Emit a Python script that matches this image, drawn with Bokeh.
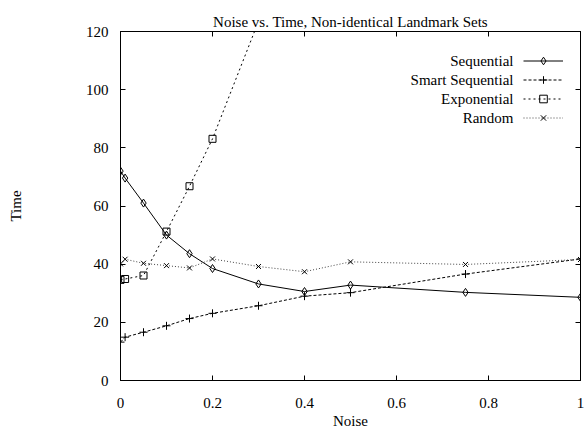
from bokeh.plotting import figure
from bokeh.models import (Range1d, LinearAxis, Legend, LegendItem, Label,
                          FixedTicker, CustomJSTickFormatter)
from bokeh.embed import file_html
from bokeh.resources import INLINE

# ---- data ----
noise = [0, 0.01, 0.05, 0.1, 0.15, 0.2, 0.3, 0.4, 0.5, 0.75, 1.0]
sequential = [72.0, 69.6, 61.0, 50.0, 43.6, 38.5, 33.2, 30.6, 32.8, 30.3, 28.6]
smart_sequential = [13.2, 14.9, 16.6, 18.8, 21.3, 23.1, 25.7, 29.0, 30.2, 36.6, 41.8]
exp_noise = [0, 0.01, 0.05, 0.1, 0.15, 0.2, 0.3]
exponential = [34.6, 34.9, 36.1, 51.2, 66.8, 83.1, 123.5]
random_times = [40.1, 41.7, 40.3, 39.5, 38.7, 41.8, 39.2, 37.4, 40.8, 39.9, 41.6]

series_names = ["Sequential", "Smart Sequential", "Exponential", "Random"]
x_ticks = [0, 0.2, 0.4, 0.6, 0.8, 1.0]
x_tick_labels = ["0", "0.2", "0.4", "0.6", "0.8", "1"]
y_ticks = [0, 20, 40, 60, 80, 100, 120]

FONT = "Liberation Serif"
FS = "15px"

p = figure(width=585, height=431, x_range=Range1d(0, 1), y_range=Range1d(0, 120),
           output_backend="svg", toolbar_location=None,
           min_border_left=120, min_border_right=5, min_border_top=31,
           min_border_bottom=51)
p.background_fill_color = "white"
p.border_fill_color = "white"
p.outline_line_color = "black"
p.outline_line_width = 1
p.xgrid.visible = False
p.ygrid.visible = False

p.title.text = "Noise vs. Time, Non-identical Landmark Sets"
p.title.align = "center"
p.title.vertical_align = "top"
p.title.text_font = FONT
p.title.text_font_size = FS
p.title.text_font_style = "normal"
p.title.text_color = "black"
p.title.standoff = 0

def style_axis(ax):
    ax.major_tick_in = 5
    ax.major_tick_out = 0
    ax.minor_tick_line_color = None
    ax.axis_line_color = "black"
    ax.major_tick_line_color = "black"
    ax.major_label_text_font = FONT
    ax.major_label_text_font_size = FS
    ax.major_label_text_color = "black"
    ax.axis_label_text_font = FONT
    ax.axis_label_text_font_size = FS
    ax.axis_label_text_font_style = "normal"
    ax.axis_label_text_color = "black"

xa = p.xaxis[0]
xa.ticker = FixedTicker(ticks=x_ticks)
xa.major_label_overrides = {t: l for t, l in zip(x_ticks, x_tick_labels)}
xa.axis_label = "Noise"
style_axis(xa)
xa.major_label_standoff = 17
xa.axis_label_standoff = 2

ya = p.yaxis[0]
ya.ticker = FixedTicker(ticks=y_ticks)
ya.axis_label = "Time"
style_axis(ya)
ya.major_label_standoff = 12
ya.axis_label_standoff = 59

blank = CustomJSTickFormatter(code="return ''")
top = LinearAxis(ticker=FixedTicker(ticks=x_ticks), formatter=blank)
style_axis(top)
top.major_label_standoff = 0
right = LinearAxis(ticker=FixedTicker(ticks=y_ticks), formatter=blank)
style_axis(right)
right.major_label_standoff = 0
p.add_layout(top, "above")
p.add_layout(right, "right")

# ---- series ----
l1 = p.line(noise, sequential, line_color="black", line_width=1)
m1 = p.scatter(noise, sequential, marker="diamond", size=8, line_color="black",
               fill_alpha=0, line_width=1)
l2 = p.line(noise, smart_sequential, line_color="black", line_width=1, line_dash="3 2")
m2 = p.scatter(noise, smart_sequential, marker="cross", size=8, line_color="black",
               line_width=1)
l3 = p.line(exp_noise, exponential, line_color="black", line_width=1, line_dash="2 3")
m3 = p.scatter(exp_noise, exponential, marker="square", size=7, line_color="black",
               fill_alpha=0, line_width=1)
l4 = p.line(noise, random_times, line_color="#444444", line_width=1, line_dash="1 2")
m4 = p.scatter(noise, random_times, marker="x", size=7, line_color="black",
               line_width=1)

# ---- key: samples via a Legend, labels right-aligned to their left ----
pitch = 19
legend_left = 403
legend_bottom = 253
legend = Legend(items=[LegendItem(label=" ", renderers=[l, m]) for l, m in
                       [(l1, m1), (l2, m2), (l3, m3), (l4, m4)]],
                location=(legend_left, legend_bottom), orientation="vertical",
                glyph_width=40, glyph_height=pitch, spacing=0, padding=0, margin=0,
                label_width=0, label_height=0, label_standoff=0,
                label_text_font_size="1px",
                border_line_color=None, background_fill_alpha=0)
p.add_layout(legend, "center")

n = len(series_names)
for i, name in enumerate(series_names):
    p.add_layout(Label(x=legend_left - 10,
                       y=legend_bottom + (n - i - 0.5) * pitch,
                       x_units="screen", y_units="screen", text=name,
                       text_align="right", text_baseline="middle",
                       text_font=FONT, text_font_size=FS, text_color="black"))

open("out.html", "w").write(file_html(p, INLINE))
